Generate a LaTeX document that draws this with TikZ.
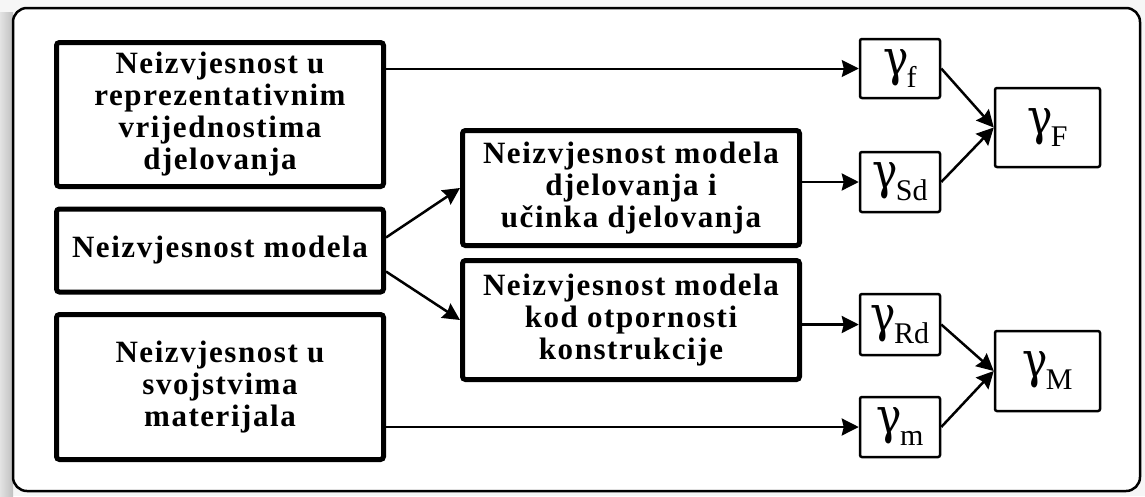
\documentclass[tikz,border=0pt]{standalone}
\usepackage{graphicx}
\usepackage{fontspec}
\setmainfont{Liberation Serif}
\newfontfamily\boxfont{Liberation Serif}[LetterSpace=5]
\newfontfamily\greekfont{DejaVu Serif}
\usetikzlibrary{arrows.meta}

% gamma with a subscript
\newcommand{\gam}[1]{\scalebox{0.85}[1]{\greekfont\fontsize{50}{50}\selectfont γ}\kern-2pt\raisebox{-12pt}{\fontsize{30}{30}\selectfont #1}}

\begin{document}
\begin{tikzpicture}[x=1pt,y=-1pt,
    bigbox/.style={draw, line width=5pt, rounded corners=3pt, fill=white,
      align=center, inner sep=0pt,
      font=\boxfont\bfseries\fontsize{31}{32}\selectfont},
    gbox/.style={draw, line width=2.5pt, rounded corners=2pt, fill=white,
      inner sep=0pt},
    conn/.style={line width=2.5pt,
      -{Stealth[length=17pt,width=17pt,inset=2pt]}}]
    \path[use as bounding box] (0,0) rectangle (1145,496);
    % frame with its shadow
    \fill[gray!7] (0,0) rectangle (1145,496);
    \shade[left color=gray!22, right color=gray!50] (0,12) rectangle (13,496);
    \draw[line width=2.5pt, fill=white, rounded corners=14pt]
      (13,8) rectangle (1140,491);

    \node[bigbox, minimum width=327pt, minimum height=144pt] (repr) at (220,114.5)
      {Neizvjesnost u\\reprezentativnim\\vrijednostima\\djelovanja};
    \node[bigbox, minimum width=327pt, minimum height=83pt] (model) at (220,250.5)
      {Neizvjesnost modela};
    \node[bigbox, minimum width=327pt, minimum height=145pt] (mat) at (220,387)
      {Neizvjesnost u\\svojstvima\\materijala};
    \node[bigbox, minimum width=337pt, minimum height=115pt] (djel) at (631,188)
      {Neizvjesnost modela\\djelovanja i\\učinka djelovanja};
    \node[bigbox, minimum width=337pt, minimum height=119pt] (otp) at (631,320)
      {Neizvjesnost modela\\kod otpornosti\\konstrukcije};

    \node[gbox, minimum width=80pt, minimum height=59pt] (gf) at (900,68.5) {\gam{f}};
    \node[gbox, minimum width=80pt, minimum height=60pt] (gSd) at (900,182) {\gam{Sd}};
    \node[gbox, minimum width=105pt, minimum height=79pt] (gF) at (1047.5,127.5) {\gam{F}};
    \node[gbox, minimum width=80pt, minimum height=61pt] (gRd) at (900,324.5) {\gam{Rd}};
    \node[gbox, minimum width=80pt, minimum height=60pt] (gm) at (900,427) {\gam{m}};
    \node[gbox, minimum width=105pt, minimum height=80pt] (gM) at (1047.5,371) {\gam{M}};

    \draw[conn, line width=2pt] (repr.east |- gf.west) -- (gf.west);
    \draw[conn] ([yshift=13pt]model.east) -- (djel.west);
    \draw[conn] ([yshift=-21pt]model.east) -- (otp.west);
    \draw[conn] (djel.east |- gSd.west) -- (gSd.west);
    \draw[conn] (otp.east |- gRd.west) -- (gRd.west);
    \draw[conn] (mat.east |- gm.west) -- (gm.west);
    \draw[conn] (gf.east) -- (gF.west);
    \draw[conn] (gSd.east) -- (gF.west);
    \draw[conn] (gRd.east) -- (gM.west);
    \draw[conn] (gm.east) -- (gM.west);
\end{tikzpicture}
\end{document}
